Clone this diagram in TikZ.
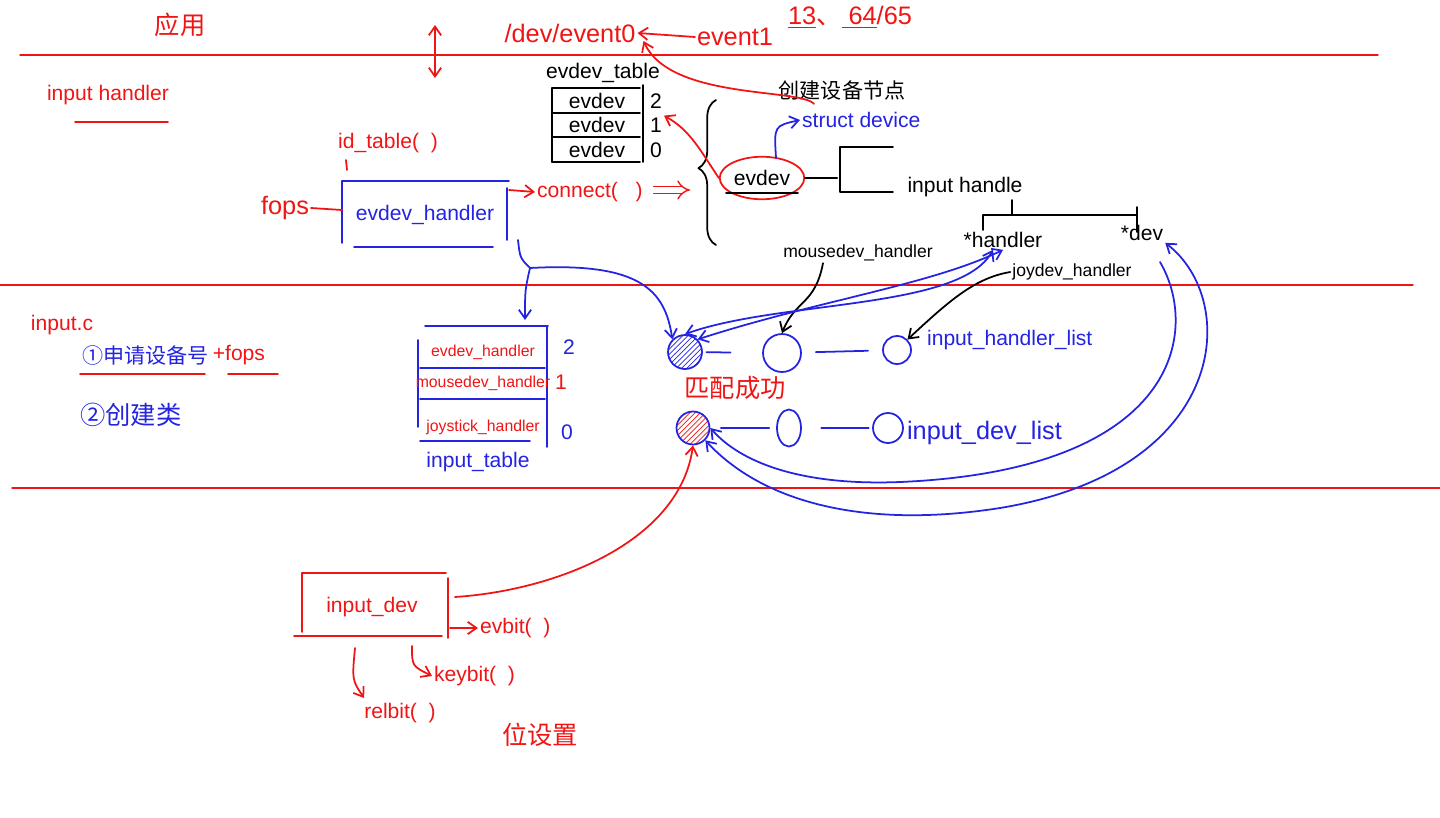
\documentclass[tikz,border=0pt]{standalone}
\usepackage{fontspec}
\setmainfont{Liberation Sans}
\newfontfamily\cjk{Noto Sans CJK SC}
\usetikzlibrary{calc,positioning,arrows.meta,shapes.geometric,patterns,decorations.pathreplacing}
\definecolor{penred}{RGB}{240,20,20}
\definecolor{penblue}{RGB}{35,35,225}
\tikzset{
	pen/.style={line width=1pt, line cap=round, line join=round},
	redline/.style={pen, draw=penred},
	blueline/.style={pen, draw=penblue},
	blackline/.style={pen, draw=black},
	redtxt/.style={text=penred, font=\large, inner sep=1pt},
	bluetxt/.style={text=penblue, font=\large, inner sep=1pt},
	blacktxt/.style={text=black, font=\large, inner sep=1pt},
	barb/.style={-{Straight Barb[length=5pt,width=7pt]}},
	barbs/.style={{Straight Barb[length=5pt,width=7pt]}-{Straight Barb[length=5pt,width=7pt]}},
	listnode/.style={circle, draw=penblue, line width=1pt, inner sep=0pt},
}

\begin{document}
\begin{tikzpicture}[x=0.02cm, y=-0.02cm]
	\useasboundingbox (0,0) rectangle (1440,818);

	% section lines
	\draw[redline, line width=0.8pt] (20,55) -- (1378,55);
	\draw[redline, line width=0.8pt] (0,285) -- (1413,285);
	\draw[redline, line width=0.8pt] (12,488) -- (1440,488);

	% application band
	\node[redtxt, font=\Large] (app) at (180,25) {\cjk 应用};
	\coordinate (up) at (435,25);
	\coordinate (down) at (435,78);
	\draw[redline, barbs] (up) -- (down);
	\node[redtxt, font=\Large] (evt0) at (570,33) {/dev/event0};
	\node[redtxt, font=\Large] (evt1) at (735,37) {event1};
	\node[redtxt, font=\Large] (pg) at (850,17) {\underline{13}{\cjk 、}\underline{\ 64}/65};
	\draw[redline, barb] (evt1.west) -- (evt0.east);

	\node[redtxt] (ihd) at (108,95) {input handler};
	\draw[redline] (75,122) -- (168,122);

	% evdev table
	\node[blacktxt] (evtab) at (603,73) {evdev\_table};
	\foreach \y in {88,113,137,162}
		\draw[blackline] (552,\y) -- (640,\y);
	\draw[blackline] (552,88) -- (552,162);
	\draw[blackline] (643,85) -- (643,162);
	\foreach \i/\y in {2/101,1/125,0/150} {
		\node[blacktxt] (row\i) at (597,\y) {evdev};
		\node[blacktxt] (idx\i) at (656,\y) {\i};
	}

	% evdev and input handle
	\draw[blackline, decorate, decoration={brace, amplitude=10pt, aspect=0.53}] (716,245) -- (716,100);
	\node[blacktxt, ellipse, draw=penred, line width=1pt, minimum width=1.55cm, minimum height=0.85cm] (evd) at (762,178) {evdev};
	\draw[blackline] ($(evd)+(-36,15)$) -- ($(evd)+(36,15)$);
	\node[bluetxt, anchor=west] (sdev) at (800,120) {struct device};
	\draw[blueline, barb] ($(evd.north)+(14,2)$) .. controls ($(evd.north)+(12,-30)$) .. (sdev.west);
	\node[blacktxt] (mkdev) at (842,90) {\cjk 创建设备节点};
	\draw[redline, barb] ($(mkdev.south)+(-28,2)$) .. controls (800,88) and (670,100) .. ($(evt0.east)+(6,8)$);
	\draw[redline, barb] (evd.west) .. controls (700,150) and (690,130) .. (idx1.north east);

	\draw[blackline] (evd.east) -- ($(evd.east)+(32,0)$);
	\draw[blackline] (893,147) -- (840,147) -- (840,192) -- (893,192);
	\node[blacktxt] (ihl) at (965,187) {input handle};
	\draw[blackline] (1012,200) -- (1012,215);
	\draw[blackline] (983,230) -- (983,215) -- (1137,215);
	\draw[blackline] (1137,207) -- (1137,232);
	\node[blacktxt] (hdl) at (1003,240) {*handler};
	\node[blacktxt] (dvp) at (1142,233) {*dev};
	\node[blacktxt, font=\normalsize] (jdh) at (1072,272) {joydev\_handler};
	\node[blacktxt, font=\normalsize] (mdh) at (858,253) {mousedev\_handler};

	% evdev_handler box
	\node[redtxt, font=\Large] (fops) at (285,208) {fops};
	\node[bluetxt] (edh) at (425,215) {evdev\_handler};
	\draw[blueline] (342,181) -- (509,181);
	\draw[blueline] (354,247) -- (493,247);
	\draw[blueline] (342,181) -- (342,243);
	\draw[blueline] (507,188) -- (507,240);
	\draw[redline] (fops.east) -- (342,210);
	\node[redtxt] (idt) at (388,143) {id\_table(\ \ )};
	\draw[redline] (346,160) -- (347,170);
	\node[redtxt, anchor=west] (conn) at (535,192) {connect(\ \ \ )};
	\draw[redline, barb] (509,190) -- (conn.west);
	\coordinate (dbl) at (690,190);
	\draw[draw=penred, line width=0.8pt, double, double distance=3pt, -Implies] ($(conn.east)+(8,-2)$) -- (dbl);

	% input_table
	\draw[blueline] (425,326) -- (548,326);
	\foreach \y in {368,399}
		\draw[blueline] (420,\y) -- (545,\y);
	\draw[blueline] (420,441) -- (530,441);
	\draw[blueline] (418,340) -- (418,427);
	\draw[blueline] (547,326) -- (547,447);
	\foreach \n/\t/\y in {2/evdev\_handler/352, 1/mousedev\_handler/383, 0/joystick\_handler/427}
		\node[redtxt, font=\small] (tab\n) at (483,\y) {\t};
	\node[bluetxt] (ti2) at (569,347) {2};
	\node[redtxt] (ti1) at (561,382) {1};
	\node[bluetxt] (ti0) at (567,432) {0};
	\node[bluetxt] (itab) at (478,462) {input\_table};

	% lists
	\node[listnode, minimum size=0.68cm, pattern=north east lines, pattern color=penblue] (c11) at (685,352) {};
	\node[listnode, minimum size=0.76cm] (c12) at (782,353) {};
	\node[listnode, minimum size=0.56cm] (c13) at (897,350) {};
	\node[listnode, minimum size=0.66cm, pattern=north east lines, pattern color=penred] (c21) at (693,428) {};
	\node[listnode, ellipse, minimum width=0.48cm, minimum height=0.74cm] (c22) at (789,428) {};
	\node[listnode, minimum size=0.6cm] (c23) at (888,428) {};
	\draw[blueline, shorten <=2pt, shorten >=18pt] (c11) -- (c12);
	\draw[blueline, shorten <=8pt, shorten >=8pt] (c12) -- (c13);
	\draw[blueline, shorten <=6pt, shorten >=4pt] (c21) -- (c22);
	\draw[blueline, shorten <=11pt, shorten >=2pt] (c22) -- (c23);
	\node[bluetxt, anchor=west] (hlist) at (925,340) {input\_handler\_list};
	\node[bluetxt, font=\Large, anchor=west] (dlist) at (905,433) {input\_dev\_list};
	\node[redtxt, font=\Large] (match) at (735,388) {\cjk 匹配成功};

	\coordinate (jn) at (530,268);
	\coordinate (ttop) at (525,320);
	\draw[blueline] (518,240) .. controls (520,258) .. (jn);
	\draw[blueline, barb] (jn) .. controls (640,262) and (665,290) .. (c11.north west);
	\draw[blueline, barb] (jn) .. controls (525,290) .. (ttop);

	\draw[blackline, barb] ($(mdh.south)+(-35,0)$) .. controls (815,305) and (795,300) .. (c12.north);
	\draw[blackline, barb] (jdh.west) .. controls (975,278) and (950,300) .. (c13.north east);
	\draw[blueline, barbs] (c11.north east) .. controls (820,300) and (930,285) .. (hdl.south);
	\draw[blueline, barbs] (c11.north) .. controls (780,300) and (960,310) .. ($(hdl.south)+(-10,0)$);
	\draw[blueline, barb] (1160,262) .. controls (1200,330) and (1180,470) .. (900,482) .. controls (800,486) and (740,462) .. (c21.east);
	\draw[blueline, barbs] (dvp.south east) .. controls (1240,300) and (1230,470) .. (1000,508) .. controls (860,530) and (760,500) .. (c21.south east);

	% input_dev
	\node[redtxt] (idev) at (372,607) {input\_dev};
	\draw[redline] (302,632) -- (302,573) -- (446,573);
	\draw[redline] (294,636) -- (442,636);
	\draw[redline] (448,578) -- (448,638);
	\coordinate (pull) at (455,597);
	\draw[redline, barb] (pull) .. controls (560,590) and (680,540) .. (c21.south);
	\node[redtxt, anchor=west] (evb) at (478,628) {evbit(\ \ )};
	\draw[redline, barb] (450,628) -- (evb.west);
	\node[redtxt, anchor=west] (keyb) at (432,676) {keybit(\ \ )};
	\draw[redline, barb] (412,646) .. controls (412,666) .. (keyb.west);
	\node[redtxt] (relb) at (400,713) {relbit(\ \ )};
	\draw[redline, barb] (355,648) .. controls (352,680) .. ($(relb.north west)+(2,-3)$);
	\node[redtxt, font=\Large] (bitset) at (540,735) {\cjk 位设置};

	% input.c
	\node[redtxt] (inc) at (62,325) {input.c};
	\node[bluetxt, anchor=west] (step1) at (80,355) {\cjk ①申请设备号};
	\node[redtxt, anchor=west] (fops2) at (step1.east) {+fops};
	\draw[redline] (80,374) -- (205,374);
	\draw[redline] (228,374) -- (278,374);
	\node[bluetxt, font=\Large, anchor=west] (step2) at (78,415) {\cjk ②创建类};
\end{tikzpicture}
\end{document}
